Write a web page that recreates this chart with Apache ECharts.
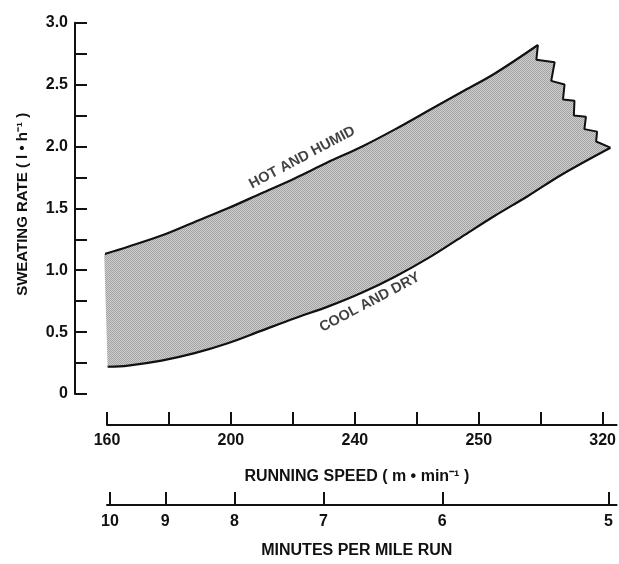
<!DOCTYPE html>
<html>
<head>
<meta charset="utf-8">
<script src="https://cdn.jsdelivr.net/npm/echarts@6/dist/echarts.min.js"></script>
<style>
  html, body { margin: 0; padding: 0; background: #fff; }
  #chart { width: 619px; height: 564px; }
</style>
</head>
<body>
<div id="chart"></div>
<script>
// upper boundary (hot and humid), speed in m/min, rate in l/h
const hotSpeed = [159.1, 166.8, 177.6, 188.3, 199.0, 209.7, 220.4, 231.1, 242.4, 253.1, 263.8, 274.5, 285.2, 299.1];
const hotRate  = [1.13, 1.19, 1.28, 1.39, 1.50, 1.62, 1.74, 1.87, 2.00, 2.14, 2.29, 2.44, 2.59, 2.82];
// broken right edge, from the top end down to the lower curve
const zigSpeed = [299.1, 298.6, 304.5, 303.4, 307.7, 307.2, 310.9, 310.7, 314.6, 314.1, 318.2, 317.9, 322.5];
const zigRate  = [2.82, 2.70, 2.68, 2.53, 2.50, 2.38, 2.37, 2.25, 2.24, 2.14, 2.12, 2.04, 1.99];
// lower boundary (cool and dry)
const coolSpeed = [160.2, 166.8, 177.6, 188.3, 199.0, 209.7, 220.4, 231.7, 242.4, 253.1, 263.8, 274.5, 285.2, 295.9, 306.6, 322.5];
const coolRate  = [0.22, 0.23, 0.27, 0.33, 0.41, 0.51, 0.61, 0.71, 0.82, 0.95, 1.10, 1.27, 1.44, 1.60, 1.77, 1.99];

// axes
const speedTicks = [160, 180, 200, 220, 240, 260, 280, 300, 320];
const speedLabelValues = [160, 200, 240, 280, 320];
const speedLabelText = ['160', '200', '240', '250', '320'];   // as printed on the figure
const minutesPerMile = [10, 9, 8, 7, 6, 5];
const METERS_PER_MILE = 1609.34;

const INK = '#111';
const FONT = '"Liberation Sans", Arial, sans-serif';

const chart = echarts.init(document.getElementById('chart'));

// stippled grey fill
const tile = document.createElement('canvas');
tile.width = 2; tile.height = 2;
const g = tile.getContext('2d');
g.fillStyle = '#cfcfcf'; g.fillRect(0, 0, 2, 2);
g.fillStyle = '#a2a2a2'; g.fillRect(0, 0, 1, 1); g.fillRect(1, 1, 1, 1);

const minuteValues = minutesPerMile.map(m => METERS_PER_MILE / m);
const toPairs = (xs, ys) => xs.map((x, i) => [x, ys[i]]);

const labelStyle = { color: INK, fontSize: 16, fontWeight: 'bold', fontFamily: FONT };

const option = {
  animation: false,
  backgroundColor: '#fff',
  textStyle: { fontFamily: FONT },
  grid: { left: 107, right: 0, top: 22.7, bottom: 165.5, containLabel: false },
  xAxis: [
    {
      type: 'value', min: 160, max: 324.5, position: 'bottom', offset: 31,
      axisLine: { show: true, onZero: false, lineStyle: { color: INK, width: 2 } },
      axisTick: { show: true, inside: true, length: 13, customValues: speedTicks,
        lineStyle: { color: INK, width: 2 } },
      axisLabel: Object.assign({ customValues: speedLabelValues, margin: 8,
        formatter: v => speedLabelText[speedLabelValues.indexOf(Math.round(v))] || '' }, labelStyle),
      splitLine: { show: false },
      name: 'RUNNING SPEED ( m • min⁻¹ )', nameLocation: 'middle', nameGap: 44,
      nameTextStyle: Object.assign({ padding: [0, 10, 0, 0] }, labelStyle)
    },
    {
      type: 'value', min: 160, max: 324.5, position: 'bottom', offset: 111,
      axisLine: { show: true, onZero: false, lineStyle: { color: INK, width: 2 } },
      axisTick: { show: true, inside: true, length: 13, customValues: minuteValues,
        lineStyle: { color: INK, width: 2 } },
      axisLabel: Object.assign({ customValues: minuteValues, margin: 9,
        formatter: v => String(Math.round(METERS_PER_MILE / v)) }, labelStyle),
      splitLine: { show: false },
      name: 'MINUTES PER MILE RUN', nameLocation: 'middle', nameGap: 38,
      nameTextStyle: Object.assign({ padding: [0, 10, 0, 0] }, labelStyle)
    }
  ],
  yAxis: {
    type: 'value', min: 0, max: 3, interval: 0.25, position: 'left', offset: 32,
    axisLine: { show: true, onZero: false, lineStyle: { color: INK, width: 2 } },
    axisTick: { show: true, inside: true, length: 12, lineStyle: { color: INK, width: 2 } },
    axisLabel: Object.assign({ margin: 7,
      formatter: v => (Math.abs(v * 2 - Math.round(v * 2)) < 1e-6) ? (v === 0 ? '0' : v.toFixed(1)) : '' }, labelStyle),
    splitLine: { show: false },
    name: 'SWEATING RATE ( l • h⁻¹ )', nameLocation: 'middle', nameGap: 45, nameRotate: 90,
    nameTextStyle: Object.assign({}, labelStyle, { fontSize: 15, padding: [0, 0, 0, 8] })
  },
  series: [
    {
      type: 'custom',
      coordinateSystem: 'cartesian2d',
      xAxisIndex: 0, yAxisIndex: 0,
      silent: true,
      data: [[240, 1.5]],
      renderItem: function (params, api) {
        const pts = [];
        hotSpeed.forEach((s, i) => pts.push(api.coord([s, hotRate[i]])));
        zigSpeed.forEach((s, i) => pts.push(api.coord([s, zigRate[i]])));
        for (let i = coolSpeed.length - 1; i >= 0; i--) pts.push(api.coord([coolSpeed[i], coolRate[i]]));
        return { type: 'polygon', shape: { points: pts },
          style: { fill: { image: tile, repeat: 'repeat' }, stroke: null } };
      }
    },
    {
      name: 'HOT AND HUMID', type: 'line', xAxisIndex: 0, yAxisIndex: 0,
      symbol: 'none', clip: false, smooth: 0.35,
      lineStyle: { color: INK, width: 2.2 },
      data: toPairs(hotSpeed, hotRate)
    },
    {
      name: 'edge', type: 'line', xAxisIndex: 0, yAxisIndex: 0,
      symbol: 'none', clip: false,
      lineStyle: { color: INK, width: 2 },
      data: toPairs(zigSpeed, zigRate)
    },
    {
      name: 'COOL AND DRY', type: 'line', xAxisIndex: 0, yAxisIndex: 0,
      symbol: 'none', clip: false, smooth: 0.35,
      lineStyle: { color: INK, width: 2.2 },
      data: toPairs(coolSpeed, coolRate)
    },
    {
      type: 'scatter', xAxisIndex: 0, yAxisIndex: 0, symbolSize: 0, silent: true,
      label: Object.assign({ show: true, position: 'inside', rotate: 28, formatter: 'HOT AND HUMID' },
        labelStyle, { fontSize: 14.5 }),
      data: [[223.0, 1.91]]
    },
    {
      type: 'scatter', xAxisIndex: 0, yAxisIndex: 0, symbolSize: 0, silent: true,
      label: Object.assign({ show: true, position: 'inside', rotate: 28, formatter: 'COOL AND DRY' },
        labelStyle, { fontSize: 14.5 }),
      data: [[244.8, 0.74]]
    }
  ]
};

chart.setOption(option);
</script>
</body>
</html>
